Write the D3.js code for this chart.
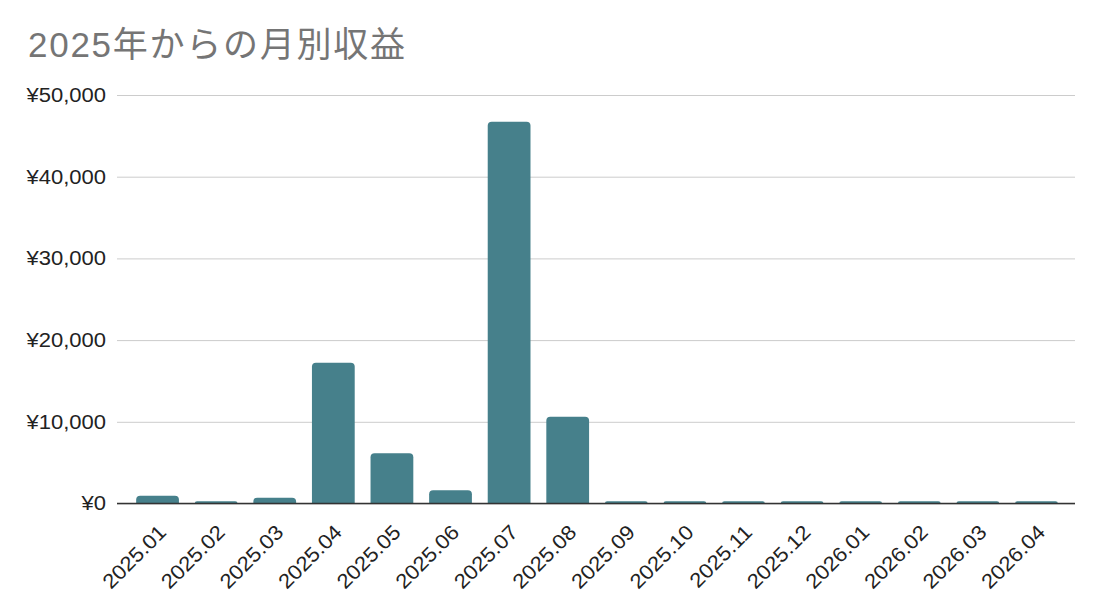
<!DOCTYPE html>
<meta charset="utf-8">
<svg width="1100" height="604"></svg>
<script src="https://d3js.org/d3.v7.min.js"></script>
<style>
    body {
        margin: 0;
        background: #fff;
    }

    text {
        font-family: "Liberation Sans", Arial, "Noto Sans CJK JP", sans-serif;
    }
</style>
<script>
    var months = ["2025.01", "2025.02", "2025.03", "2025.04", "2025.05", "2025.06", "2025.07", "2025.08",
        "2025.09", "2025.10", "2025.11", "2025.12", "2026.01", "2026.02", "2026.03", "2026.04"];
    var revenue = [950, 280, 710, 17240, 6150, 1620, 46730, 10630,
        280, 280, 280, 280, 280, 280, 280, 280];
    var yTicks = [0, 10000, 20000, 30000, 40000, 50000];
    var title = "2025年からの月別収益";

    var svg = d3.select("svg"),
        plotLeft = 117, plotRight = 1075, plotTop = 95, plotBottom = 503.5;

    var x = d3.scaleBand()
        .domain(months)
        .range([plotLeft + 1, plotRight + 1])
        .paddingInner(0.27)
        .paddingOuter(0.31);

    var y = d3.scaleLinear()
        .domain([0, 50000])
        .range([plotBottom, plotTop]);

    // reference text is a bit wider than the font's own metrics
    function widen(sel, k) {
        sel.each(function () {
            var len = this.getComputedTextLength();
            d3.select(this).attr("textLength", len * k).attr("lengthAdjust", "spacingAndGlyphs");
        });
    }

    svg.append("text")
        .attr("x", 28)
        .attr("y", 57)
        .attr("fill", "#757575")
        .attr("font-size", 35)
        .attr("textLength", 377)
        .attr("lengthAdjust", "spacing")
        .text(title);

    // gridlines + labels
    var yAxis = svg.append("g")
        .attr("transform", "translate(" + plotLeft + ",0)")
        .call(d3.axisLeft(y).tickValues(yTicks).tickSize(-(plotRight - plotLeft)).tickPadding(11)
            .tickFormat(function (d) { return "¥" + d3.format(",")(d); }));
    yAxis.select(".domain").remove();
    yAxis.selectAll("line").attr("stroke", "#cccccc").attr("stroke-width", 1);
    yAxis.selectAll("text")
        .attr("fill", "#222")
        .attr("font-size", 20)
        .attr("font-family", "'Liberation Sans', Arial, sans-serif")
        .call(widen, 1.1);

    function barPath(d, i) {
        var x0 = x(months[i]), w = x.bandwidth(), y0 = y(d), h = plotBottom - y0;
        var r = Math.min(4, h, w / 2);
        return "M" + x0 + "," + plotBottom +
            "V" + (y0 + r) +
            "Q" + x0 + "," + y0 + " " + (x0 + r) + "," + y0 +
            "H" + (x0 + w - r) +
            "Q" + (x0 + w) + "," + y0 + " " + (x0 + w) + "," + (y0 + r) +
            "V" + plotBottom + "Z";
    }

    svg.append("g")
        .selectAll("path")
        .data(revenue)
        .enter().append("path")
        .attr("fill", "#46808b")
        .attr("d", barPath);

    // baseline
    svg.append("line")
        .attr("x1", plotLeft).attr("x2", plotRight)
        .attr("y1", y(0)).attr("y2", y(0))
        .attr("stroke", "#333")
        .attr("stroke-width", 1.5);

    svg.append("g")
        .selectAll("text")
        .data(months)
        .enter().append("text")
        .attr("transform", function (d) {
            return "translate(" + (x(d) + x.bandwidth() / 2 + 10) + "," + (plotBottom + 30) + ") rotate(-45)";
        })
        .attr("text-anchor", "end")
        .attr("fill", "#222")
        .attr("font-size", 20.5)
        .text(function (d) { return d; })
        .call(widen, 1.08);
</script>
